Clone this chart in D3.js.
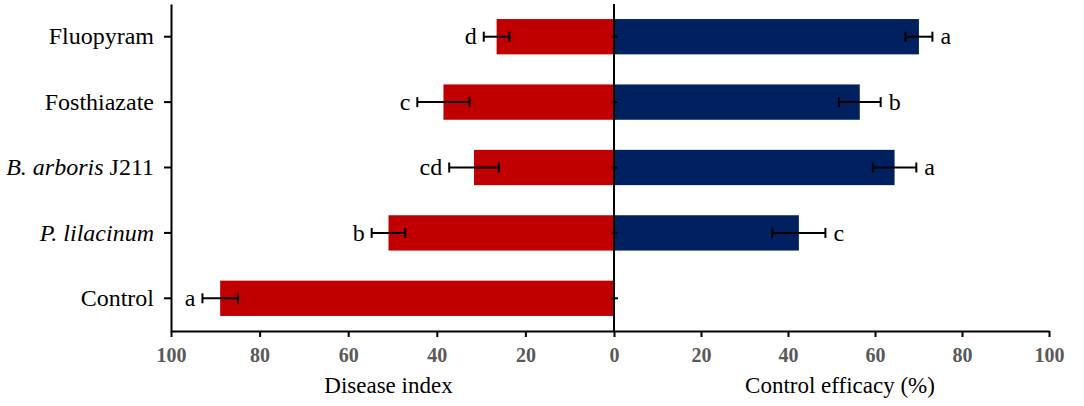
<!DOCTYPE html>
<html>
<head>
<meta charset="utf-8">
<script src="https://cdn.jsdelivr.net/npm/d3@7/dist/d3.min.js"></script>
<style>
  html, body { margin: 0; padding: 0; background: #fff; }
  svg { display: block; }
  text { font-family: "Liberation Serif", "Times New Roman", serif; }
</style>
</head>
<body>
<svg id="chart" width="1084" height="406" font-family="Liberation Serif, serif"></svg>
<script>
// ---- data ----
const categories = ["Fluopyram", "Fosthiazate", "B. arboris J211", "P. lilacinum", "Control"];
const diseaseIndex = [26.5, 38.5, 31.6, 50.9, 88.9];
const diseaseErr   = [2.9, 5.9, 5.6, 3.8, 4.0];
const diseaseLetters = ["d", "c", "cd", "b", "a"];
const efficacy     = [70.1, 56.5, 64.5, 42.5, 0];
const efficacyErr  = [3.1, 4.8, 5.0, 6.1, 0];
const efficacyLetters = ["a", "b", "a", "c", ""];
const leftTicks  = [100, 80, 60, 40, 20, 0];
const rightTicks = [20, 40, 60, 80, 100];
// label formatting (italic parts)
const labelParts = [
  [["Fluopyram", false]],
  [["Fosthiazate", false]],
  [["B. arboris", true], [" J211", false]],
  [["P. lilacinum", true]],
  [["Control", false]]
];

const svg = d3.select("#chart");
const yTop = 4, yBottom = 331;
const xL = d3.scaleLinear().domain([0, 100]).range([614, 171]);
const xR = d3.scaleLinear().domain([0, 100]).range([614, 1049]);
const y = d3.scaleBand().domain(categories).range([yTop, yBottom]).paddingInner(0.46).paddingOuter(0.23);

const red = "#C00000", navy = "#002060";

// bars
svg.append("g").selectAll("rect").data(categories).join("rect")
  .attr("x", (d, i) => xL(diseaseIndex[i]))
  .attr("y", d => y(d))
  .attr("width", (d, i) => xL(0) - xL(diseaseIndex[i]))
  .attr("height", y.bandwidth())
  .attr("fill", red);

svg.append("g").selectAll("rect").data(categories).join("rect")
  .attr("x", xR(0))
  .attr("y", d => y(d))
  .attr("width", (d, i) => xR(efficacy[i]) - xR(0))
  .attr("height", y.bandwidth())
  .attr("fill", navy);

// error bars
function errorBars(scale, vals, errs) {
  const g = svg.append("g").attr("stroke", "#000").attr("stroke-width", 2);
  categories.forEach((c, i) => {
    if (!errs[i]) return;
    const cy = y(c) + y.bandwidth() / 2;
    const x1 = scale(vals[i] - errs[i]), x2 = scale(vals[i] + errs[i]);
    g.append("line").attr("x1", x1).attr("x2", x2).attr("y1", cy).attr("y2", cy);
    [x1, x2].forEach(x => g.append("line").attr("x1", x).attr("x2", x).attr("y1", cy - 5).attr("y2", cy + 5));
  });
}
errorBars(xL, diseaseIndex, diseaseErr);
errorBars(xR, efficacy, efficacyErr);

// letters
svg.append("g").selectAll("text").data(categories).join("text")
  .attr("x", (d, i) => xL(diseaseIndex[i] + diseaseErr[i]) - 7)
  .attr("y", d => y(d) + y.bandwidth() / 2)
  .attr("dy", "0.32em")
  .attr("text-anchor", "end")
  .attr("font-size", 24)
  .text((d, i) => diseaseLetters[i]);

svg.append("g").selectAll("text").data(categories).join("text")
  .attr("x", (d, i) => xR(efficacy[i] + efficacyErr[i]) + 8)
  .attr("y", d => y(d) + y.bandwidth() / 2)
  .attr("dy", "0.32em")
  .attr("text-anchor", "start")
  .attr("font-size", 24)
  .text((d, i) => efficacyLetters[i]);

// left category axis
const yAxis = svg.append("g").attr("transform", `translate(${xL(100)},0)`)
  .call(d3.axisLeft(y).tickSize(7).tickSizeOuter(0).tickPadding(10));
yAxis.attr("font-family", "Liberation Serif, serif");
yAxis.selectAll("path, line").attr("stroke", "#000").attr("stroke-width", 2);
yAxis.selectAll(".tick text").attr("font-size", 24).attr("fill", "#000")
  .each(function(d) {
    const i = categories.indexOf(d);
    const t = d3.select(this).text("");
    labelParts[i].forEach(([s, it]) => t.append("tspan").attr("font-style", it ? "italic" : "normal").text(s));
  });

// center axis
const cAxis = svg.append("g");
cAxis.append("line").attr("x1", xR(0)).attr("x2", xR(0)).attr("y1", yTop).attr("y2", yBottom)
  .attr("stroke", "#000").attr("stroke-width", 2);
cAxis.selectAll("line.t").data(categories).join("line").attr("class", "t")
  .attr("x1", xR(0) - 3).attr("x2", xR(0) + 4)
  .attr("y1", d => y(d) + y.bandwidth() / 2).attr("y2", d => y(d) + y.bandwidth() / 2)
  .attr("stroke", "#000").attr("stroke-width", 2);

// bottom axes
function styleX(g) {
  g.attr("font-family", "Liberation Serif, serif");
  g.selectAll("path, line").attr("stroke", "#000").attr("stroke-width", 2);
  g.selectAll("text").attr("font-size", 20).attr("font-weight", "bold").attr("fill", "#595959");
}
const axL = svg.append("g").attr("transform", `translate(0,${yBottom})`)
  .call(d3.axisBottom(xL).tickValues(leftTicks).tickSize(6).tickSizeOuter(0).tickPadding(11).tickFormat(d3.format("d")));
styleX(axL);
const axR = svg.append("g").attr("transform", `translate(0,${yBottom})`)
  .call(d3.axisBottom(xR).tickValues(rightTicks).tickSize(6).tickSizeOuter(0).tickPadding(11).tickFormat(d3.format("d")));
styleX(axR);

// axis titles
svg.append("text").attr("x", 388.5).attr("y", 393)
  .attr("text-anchor", "middle").attr("font-size", 23).text("Disease index");
svg.append("text").attr("x", 840).attr("y", 393)
  .attr("text-anchor", "middle").attr("font-size", 23).text("Control efficacy (%)");
</script>
</body>
</html>
